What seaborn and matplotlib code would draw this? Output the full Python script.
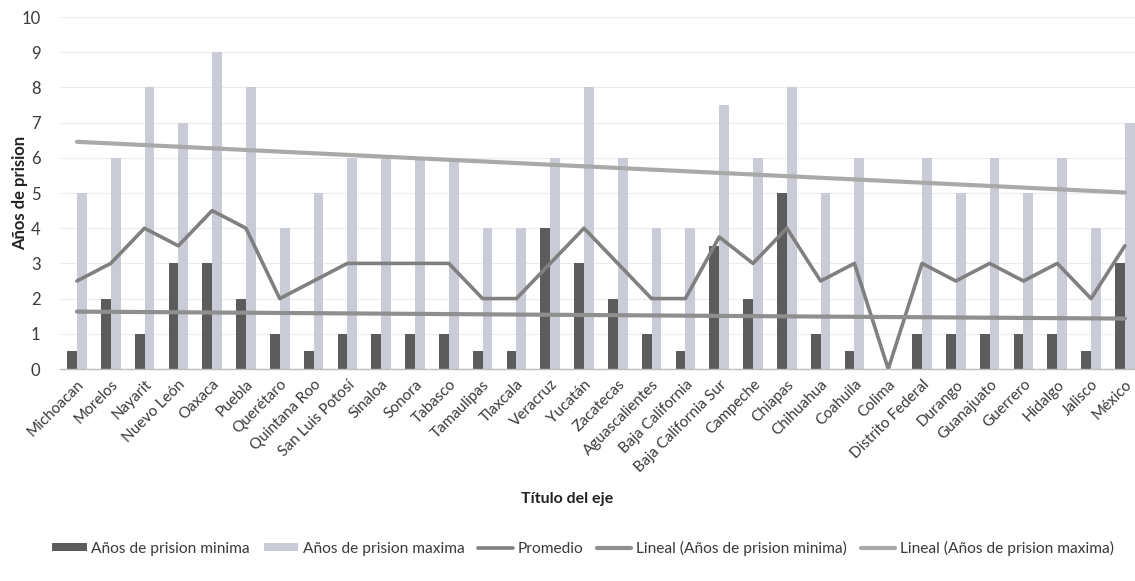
import numpy as np
import pandas as pd
import matplotlib
matplotlib.use("Agg")
import matplotlib.pyplot as plt
import seaborn as sns
from matplotlib.patches import Patch
from matplotlib.lines import Line2D

estados = ["Michoacan", "Morelos", "Nayarit", "Nuevo León", "Oaxaca", "Puebla",
           "Querétaro", "Quintana Roo", "San Luis Potosí", "Sinaloa", "Sonora",
           "Tabasco", "Tamaulipas", "Tlaxcala", "Veracruz", "Yucatán", "Zacatecas",
           "Aguascalientes", "Baja California", "Baja California Sur", "Campeche",
           "Chiapas", "Chihuahua", "Coahuila", "Colima", "Distrito Federal",
           "Durango", "Guanajuato", "Guerrero", "Hidalgo", "Jalisco", "México"]

prision_minima = [0.5, 2, 1, 3, 3, 2, 1, 0.5, 1, 1, 1, 1, 0.5, 0.5, 4, 3, 2, 1,
                  0.5, 3.5, 2, 5, 1, 0.5, 0, 1, 1, 1, 1, 1, 0.5, 3]
prision_maxima = [5, 6, 8, 7, 9, 8, 4, 5, 6, 6, 6, 6, 4, 4, 6, 8, 6, 4,
                  4, 7.5, 6, 8, 5, 6, 0, 6, 5, 6, 5, 6, 4, 7]
promedio = [2.5, 3, 4, 3.5, 4.5, 4, 2, 2.5, 3, 3, 3, 3, 2, 2, 3, 4, 3, 2,
            2, 3.75, 3, 4, 2.5, 3, 0, 3, 2.5, 3, 2.5, 3, 2, 3.5]

serie_min = "Años de prision minima"
serie_max = "Años de prision maxima"

df = pd.DataFrame({
    "estado": estados * 2,
    "valor": prision_minima + prision_maxima,
    "serie": [serie_min] * len(estados) + [serie_max] * len(estados),
})

pos = np.arange(len(estados))
fit_min = np.polyval(np.polyfit(pos, prision_minima, 1), pos)
fit_max = np.polyval(np.polyfit(pos, prision_maxima, 1), pos)

sns.set_theme(style="white")
plt.rcParams["font.family"] = ["Lato", "DejaVu Sans"]

fig = plt.figure(figsize=(11.35, 5.81), dpi=100)
W, H = 1135, 581
ax = fig.add_axes([60 / W, 1 - 369 / H, (1135 - 60) / W, (369 - 17) / H])

c_min = "#5c5c5c"
c_max = "#c9ccd6"
c_prom = "#808080"
c_lmin = "#8f8f8f"
c_lmax = "#a9a9a9"

sns.barplot(data=df, x="estado", y="valor", hue="serie", order=estados,
            hue_order=[serie_min, serie_max], palette=[c_min, c_max],
            width=0.58, gap=0, ax=ax, legend=False, errorbar=None,
            saturation=1, linewidth=0)

sns.lineplot(x=pos, y=promedio, color=c_prom, lw=2.6, ax=ax, sort=False)
sns.lineplot(x=pos, y=fit_min, color=c_lmin, lw=3, ax=ax, sort=False)
sns.lineplot(x=pos, y=fit_max, color=c_lmax, lw=3, ax=ax, sort=False)

ax.set_ylim(0, 10)
ax.set_yticks(range(0, 11))
ax.set_xlim(-0.5, 31.3)
ax.grid(axis="y", color="#ececec", lw=0.8)
ax.set_axisbelow(True)
for s in ["top", "right", "left"]:
    ax.spines[s].set_visible(False)
ax.spines["bottom"].set_color("#bdbdbd")
ax.spines["bottom"].set_linewidth(1)

ax.set_xticks(pos)
ax.set_xticklabels(estados, rotation=45, ha="right", rotation_mode="anchor",
                   fontsize=11, color="#3a3a3a")
ax.tick_params(axis="x", length=0, pad=6)
ax.tick_params(axis="y", length=0, pad=14, labelsize=12, labelcolor="#3a3a3a")

ax.set_xlabel("Título del eje", fontsize=11.5, fontweight="bold", color="#222222",
              labelpad=0)
ax.xaxis.set_label_coords((567 - 60) / (1135 - 60), -(492 - 369) / (369 - 17))
ax.set_ylabel("Años de prision", fontsize=12, fontweight="bold", color="#222222")
ax.yaxis.set_label_coords(-(60 - 28) / (1135 - 60), 0.5)

handles = [
    Patch(facecolor=c_min, edgecolor="none"),
    Patch(facecolor=c_max, edgecolor="none"),
    Line2D([0], [0], color=c_prom, lw=2.6),
    Line2D([0], [0], color=c_lmin, lw=3),
    Line2D([0], [0], color=c_lmax, lw=3),
]
labels = [serie_min, serie_max, "Promedio", "Lineal (Años de prision minima)",
          "Lineal (Años de prision maxima)"]
fig.legend(handles, labels, loc="center", bbox_to_anchor=(583 / W, 1 - 548 / H),
           ncol=5, frameon=False, fontsize=11.2, handlelength=2.2,
           handleheight=0.45, handletextpad=0.3, columnspacing=0.9,
           labelcolor="#3a3a3a")

fig.savefig("out.png", dpi=100)
